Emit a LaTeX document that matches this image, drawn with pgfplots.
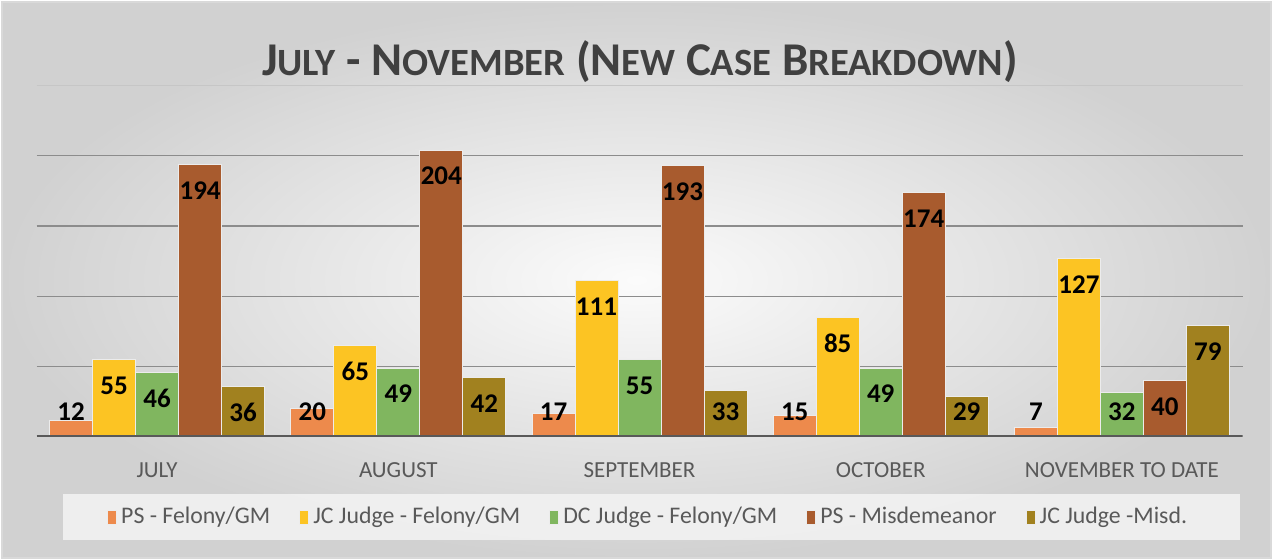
\documentclass[border=0pt]{standalone}
\usepackage{pgfplots}
\pgfplotsset{compat=1.18}
\usepackage{pgfplotstable}
\usepackage{fontspec}
\setmainfont{Carlito}
\definecolor{cPSF}{RGB}{237,138,76}
\definecolor{cJCF}{RGB}{252,196,35}
\definecolor{cDCF}{RGB}{128,182,95}
\definecolor{cPSM}{RGB}{168,91,46}
\definecolor{cJCM}{RGB}{161,129,31}
\definecolor{txtgray}{RGB}{89,89,89}
\definecolor{titlegray}{RGB}{64,64,64}
\definecolor{gridgray}{RGB}{140,140,140}
\pgfplotstableread{
x v
0 12
1 20
2 17
3 15
4 7
}\psf
\pgfplotstableread{
x v
0 55
1 65
2 111
3 85
4 127
}\jcf
\pgfplotstableread{
x v
0 46
1 49
2 55
3 49
4 32
}\dcf
\pgfplotstableread{
x v
0 194
1 204
2 193
3 174
4 40
}\psm
\pgfplotstableread{
x v
0 36
1 42
2 33
3 29
4 79
}\jcm
\begin{document}
\begin{tikzpicture}
\useasboundingbox (0,0) rectangle (636.5pt,280pt);
\shade[inner color=white!97!gray, outer color=gray!36] (1pt,1pt) rectangle (635.5pt,279pt);
\draw[gray!30, line width=0.8pt] (1pt,1pt) rectangle (635.5pt,279pt);
\fill[white!90!gray, opacity=0.9] (31.5pt,10pt) rectangle (620pt,33pt);
\node[font=\fontsize{23.5}{23.5}\selectfont\bfseries, text=titlegray] at (320pt,249pt)
  {J{\fontsize{19.3}{19.3}\selectfont ULY} - N{\fontsize{19.3}{19.3}\selectfont OVEMBER} (N{\fontsize{19.3}{19.3}\selectfont EW} C{\fontsize{19.3}{19.3}\selectfont ASE} B{\fontsize{19.3}{19.3}\selectfont REAKDOWN})};
\begin{axis}[
  at={(18.25pt,61.5pt)}, anchor=south west,
  scale only axis, width=603pt, height=175.75pt,
  ybar=0pt, bar width=21.5pt,
  xmin=-0.5, xmax=4.5, ymin=0, ymax=250,
  xtick={0,1,2,3,4},
  xticklabels={JULY,AUGUST,SEPTEMBER,OCTOBER,NOVEMBER TO DATE},
  xticklabel style={font=\fontsize{11.5}{11.5}\selectfont, text=txtgray, yshift=-5pt},
  xtick style={draw=none},
  ytick={50,100,150,200}, yticklabels={},
  extra y ticks={250}, extra y tick labels={},
  extra y tick style={grid style={gray!45, line width=0.7pt}},
  ytick style={draw=none},
  ymajorgrids, grid style={gridgray, line width=0.7pt},
  axis line style={draw=none},
  /pgf/number format/assume math mode=true,
  legend columns=5,
  legend style={at={(0.508,-0.228)}, anchor=center, draw=none, fill=none,
    font=\fontsize{11.9}{11.9}\selectfont, text=txtgray,
    /tikz/every even column/.append style={column sep=12.5pt}},
  legend image code/.code={\fill[#1] (0pt,-3.5pt) rectangle (4.5pt,3.5pt);},
  every axis plot/.append style={draw=white!85!gray, line width=0.5pt},
  nodes near coords,
  nodes near coords align={anchor=center},
  visualization depends on={\thisrow{v} \as \val},
  every node near coord/.append style={font=\fontsize{13.5}{13.5}\selectfont\bfseries, text=black,
    yshift={max(-13,(17.8-\val)*0.703)}},
]
\addplot[fill=cPSF] table[x=x,y=v] {\psf};
\addplot[fill=cJCF] table[x=x,y=v] {\jcf};
\addplot[fill=cDCF] table[x=x,y=v] {\dcf};
\addplot[fill=cPSM] table[x=x,y=v] {\psm};
\addplot[fill=cJCM] table[x=x,y=v] {\jcm};
\legend{PS - Felony/GM, JC Judge - Felony/GM, DC Judge - Felony/GM, PS - Misdemeanor, JC Judge -Misd.}
\draw[txtgray, line width=1.6pt] (axis cs:-0.5,0) -- (axis cs:4.5,0);
\end{axis}
\end{tikzpicture}
\end{document}
